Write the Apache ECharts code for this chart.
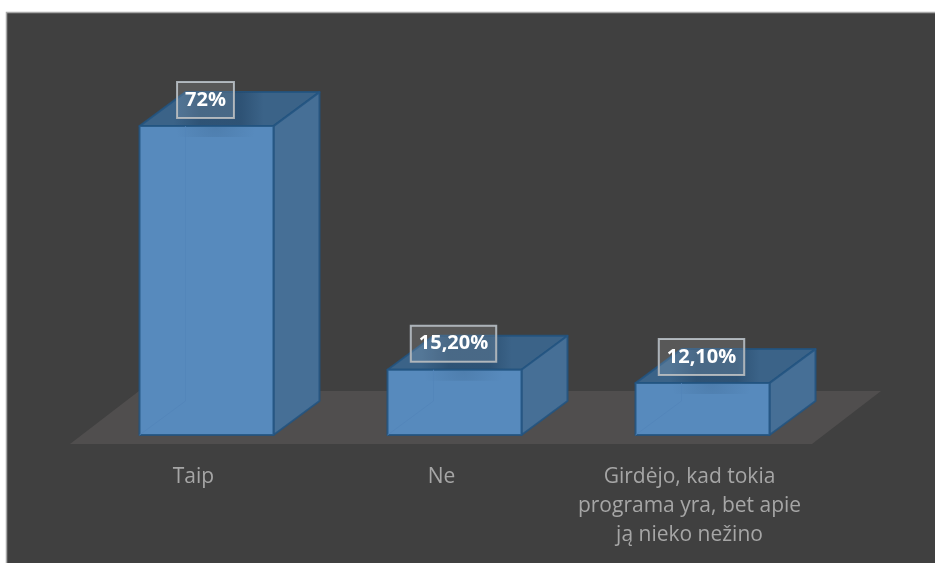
<!DOCTYPE html>
<html><head><meta charset="utf-8">
<style>html,body{margin:0;padding:0;background:#fff;overflow:hidden}#c{width:935px;height:563px}</style>
<script src="https://cdn.jsdelivr.net/npm/echarts@6/dist/echarts.min.js"></script>
</head><body><div id="c"></div>
<script>
const categories = ['Taip', 'Ne', 'Girdėjo, kad tokia\nprograma yra, bet apie\nją nieko nežino'];
const values = [72, 15.2, 12.1];
const valueLabels = ['72%', '15,20%', '12,10%'];

const chart = echarts.init(document.getElementById('c'), null, {renderer: 'canvas'});
const DX = 46, DY = -34, BAR = 134;
const stroke = 'rgba(34,84,128,0.85)';

function poly(points, fill, z2) {
  return {type: 'polygon', shape: {points}, z2,
    style: {fill, stroke, lineWidth: 2, lineJoin: 'round'}};
}
function renderBar(params, api) {
  const top = api.coord([api.value(0), api.value(1)]);
  const base = api.coord([api.value(0), 0]);
  const l = top[0] - BAR / 2, r = top[0] + BAR / 2, t = top[1], b = base[1];
  const lx = top[0] - 1, ly = t - 26;
  const glow = new echarts.graphic.LinearGradient(lx - 32, 0, lx + 58, 0, [
    {offset: 0, color: 'rgba(38,72,105,0)'},
    {offset: 0.3, color: 'rgba(38,72,105,0.6)'},
    {offset: 0.75, color: 'rgba(38,72,105,0.6)'},
    {offset: 1, color: 'rgba(38,72,105,0)'}
  ], true);
  const under = new echarts.graphic.RadialGradient(lx + 10, t, 40, [
    {offset: 0, color: 'rgba(38,72,105,0.18)'},
    {offset: 1, color: 'rgba(38,72,105,0)'}
  ], true);
  return {type: 'group', children: [
    poly([[l,t],[r,t],[r+DX,t+DY],[l+DX,t+DY]], '#3b6388', 1),
    {type: 'polygon', z2: 2, silent: true,
      shape: {points: [[l,t],[r,t],[r+DX,t+DY],[l+DX,t+DY]]}, style: {fill: glow}},
    poly([[r,t],[r+DX,t+DY],[r+DX,b+DY],[r,b]], '#466f96', 2),
    poly([[l,t],[r,t],[r,b],[l,b]], '#578abd', 4),
    {type: 'rect', z2: 5, silent: true, shape: {x: lx - 30, y: t + 1, width: 80, height: 10},
      style: {fill: under}},
    {type: 'polyline', z2: 5, silent: true, shape: {points: [[l,b],[l+DX,b+DY],[l+DX,t]]},
      style: {fill: 'none', stroke: 'rgba(82,133,185,0.8)', lineWidth: 1}},
    {type: 'text', z2: 6, x: lx, y: ly,
      style: {text: api.value(2), fill: '#ffffff', align: 'center', verticalAlign: 'middle',
        font: 'bold 20px "Open Sans", sans-serif', padding: [8, 8, 8, 8],
        backgroundColor: 'rgba(255,255,255,0.13)', borderColor: '#a9b0b6', borderWidth: 1}}
  ]};
}
function renderFloor(params, api) {
  const y0 = api.coord([0, 0])[1];
  return {type: 'polygon', silent: true,
    shape: {points: [[70, y0 + 9], [812, y0 + 9], [881, y0 - 44], [139, y0 - 44]]},
    style: {fill: '#504e4e'}};
}
chart.setOption({
  animation: false,
  backgroundColor: '#fff',
  graphic: [{type: 'rect', z: -10, shape: {x: 6.5, y: 12.5, width: 940, height: 570},
    style: {fill: '#404040', stroke: '#a8a8a8', lineWidth: 1.5}}],
  grid: {left: 82.5, width: 744, top: 91.8, height: 343.2},
  xAxis: {type: 'category', data: categories, axisLine: {show: false}, axisTick: {show: false},
    axisLabel: {color: '#a6a6a6', fontSize: 21, lineHeight: 29, margin: 28, interval: 0,
      padding: [0, 26, 0, 0], fontFamily: '"Open Sans", sans-serif'}},
  yAxis: {type: 'value', min: 0, max: 80, show: false, splitLine: {show: false}},
  series: [
    {type: 'custom', renderItem: renderFloor, data: [[0, 0]], z: 1, silent: true,
      encode: {x: 0, y: 1}},
    {type: 'custom', renderItem: renderBar, z: 2,
      encode: {x: 0, y: 1},
      data: values.map((v, i) => [i, v, valueLabels[i]])}
  ]
});
</script></body></html>
